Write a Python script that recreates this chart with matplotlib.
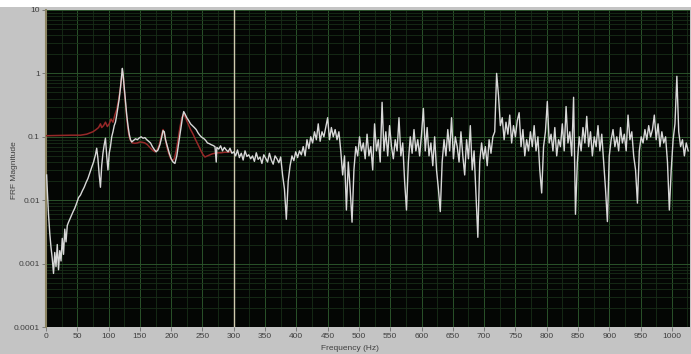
import matplotlib
matplotlib.use('Agg')
import matplotlib.pyplot as plt
from matplotlib.ticker import MultipleLocator, LogLocator, NullFormatter
import numpy as np

# measured FRF, low band (explicit frequency points)
white_f_low = [1, 2, 4, 6, 8, 10, 12, 14, 16, 18, 20, 22, 24, 26, 28, 30, 32, 34, 36, 38,
               40, 43, 46, 49, 52, 55, 58, 61, 64, 67, 70, 73, 76, 79, 81, 83, 85, 87, 89, 91,
               93, 95, 97, 99, 101, 103, 105, 107, 109, 111, 113, 115, 117, 119, 121, 122, 123, 125, 127, 129,
               131, 133, 135, 137, 140, 143, 146, 149, 152, 155, 158, 161, 164, 167, 170, 173, 176, 179, 182, 185,
               187, 189, 191, 194, 197, 200, 203, 206, 209, 212, 215, 218, 220, 222, 225, 228, 231, 234, 237, 240,
               243, 246, 249, 252, 255, 258, 261, 264, 267, 270, 272, 273, 276, 279, 282, 285, 288, 291, 294, 297]
white_low = [0.025, 0.015, 0.006, 0.003, 0.0018, 0.0012, 0.0007, 0.0015, 0.0009, 0.002,
             0.0008, 0.0016, 0.0011, 0.0025, 0.0014, 0.0035, 0.0022, 0.004, 0.0045, 0.005,
             0.0055, 0.0065, 0.0075, 0.009, 0.011, 0.012, 0.014, 0.016, 0.019, 0.022,
             0.027, 0.033, 0.04, 0.052, 0.066, 0.045, 0.025, 0.016, 0.035, 0.055,
             0.075, 0.095, 0.05, 0.03, 0.055, 0.07, 0.1, 0.12, 0.15, 0.17,
             0.22, 0.3, 0.4, 0.6, 0.95, 1.2, 1.0, 0.6, 0.35, 0.22,
             0.15, 0.11, 0.09, 0.083, 0.088, 0.093, 0.09, 0.096, 0.1, 0.095,
             0.097, 0.09, 0.085, 0.08, 0.07, 0.063, 0.058, 0.062, 0.075, 0.1,
             0.125, 0.12, 0.09, 0.07, 0.055, 0.045, 0.04, 0.038, 0.05, 0.08,
             0.13, 0.2, 0.25, 0.23, 0.2, 0.18, 0.16, 0.15, 0.14, 0.13,
             0.115, 0.105, 0.098, 0.094, 0.088, 0.08, 0.078, 0.075, 0.073, 0.07,
             0.04, 0.068, 0.064, 0.072, 0.06, 0.068, 0.062, 0.058, 0.066, 0.055]

# measured FRF, 300 Hz upward, one value every 3 Hz
white_high = [
    0.058, 0.05, 0.062, 0.047, 0.055, 0.043, 0.06, 0.049, 0.052, 0.045,
    0.05, 0.041, 0.056, 0.044, 0.048, 0.038, 0.052, 0.046, 0.04, 0.055,
    0.043, 0.037, 0.05, 0.045, 0.039, 0.048, 0.025, 0.015, 0.005, 0.02,
    0.035, 0.05, 0.042, 0.058, 0.047, 0.06, 0.052, 0.07, 0.05, 0.09,
    0.065, 0.1, 0.08, 0.12, 0.09, 0.16, 0.085, 0.12, 0.1, 0.14,
    0.2, 0.09, 0.14, 0.1, 0.13, 0.09, 0.12, 0.06, 0.025, 0.05,
    0.007, 0.04, 0.015, 0.0045, 0.03, 0.07, 0.05, 0.1, 0.06, 0.08,
    0.045, 0.11, 0.05, 0.07, 0.03, 0.16, 0.06, 0.09, 0.04, 0.35,
    0.06, 0.12, 0.05, 0.15, 0.07, 0.045, 0.09, 0.06, 0.2, 0.05,
    0.08, 0.02, 0.007, 0.04, 0.1, 0.055, 0.13, 0.06, 0.09, 0.05,
    0.11, 0.28, 0.06, 0.14, 0.05, 0.08, 0.035, 0.1, 0.03, 0.015,
    0.0066, 0.04, 0.09, 0.05, 0.13, 0.06, 0.2, 0.045, 0.1, 0.07,
    0.04, 0.12, 0.05, 0.025, 0.09, 0.045, 0.15, 0.03, 0.06, 0.012,
    0.0026, 0.04, 0.08, 0.045, 0.07, 0.035, 0.09, 0.055, 0.1, 0.12,
    1.0, 0.45, 0.15, 0.2, 0.09, 0.17, 0.11, 0.22, 0.08, 0.15,
    0.1, 0.18, 0.24, 0.07, 0.13, 0.05, 0.09, 0.06, 0.12, 0.07,
    0.15, 0.06, 0.1, 0.03, 0.013, 0.07, 0.12, 0.36, 0.08, 0.11,
    0.06, 0.14, 0.05, 0.09, 0.07, 0.16, 0.06, 0.3, 0.08, 0.12,
    0.05, 0.42, 0.006, 0.04, 0.1, 0.06, 0.14, 0.08, 0.21, 0.07,
    0.12, 0.05, 0.1, 0.07, 0.15, 0.06, 0.11, 0.04, 0.015, 0.0046,
    0.05, 0.09, 0.13, 0.07, 0.1, 0.06, 0.14, 0.08, 0.11, 0.06,
    0.22, 0.09, 0.12, 0.05, 0.03, 0.009, 0.06, 0.1, 0.08, 0.13,
    0.09, 0.15, 0.1, 0.13, 0.22, 0.09, 0.16, 0.07, 0.12, 0.08,
    0.1, 0.04, 0.007, 0.03, 0.09, 0.16, 0.9, 0.12, 0.07, 0.09,
    0.05, 0.08, 0.06]
white_f_high = 300 + 3 * np.arange(len(white_high))

# fitted / model FRF
red_f = [0, 20, 40, 55, 65, 75, 80, 84, 87, 89, 92, 95, 98, 101, 104, 107, 110, 113, 116, 119,
         121, 122, 123.5, 125, 127, 129, 131, 133, 135, 138, 142, 146, 150, 154, 158, 162, 166, 170, 174, 178,
         181, 184, 187, 190, 193, 196, 199, 202, 205, 208, 211, 214, 217, 220, 223, 227, 231, 235, 239, 243,
         247, 251, 254, 258, 262, 266, 270, 275, 280, 285, 290, 295]
red_v = [0.104, 0.105, 0.106, 0.106, 0.11, 0.12, 0.13, 0.14, 0.16, 0.14, 0.15, 0.17, 0.145, 0.16, 0.19,
         0.17, 0.22, 0.27, 0.38, 0.6, 0.9, 1.1, 0.9, 0.55, 0.33, 0.2, 0.13, 0.1, 0.088, 0.08,
         0.079, 0.08, 0.083, 0.082, 0.08, 0.075, 0.068, 0.062, 0.058, 0.063, 0.075, 0.1, 0.13, 0.1, 0.07,
         0.055, 0.046, 0.042, 0.045, 0.06, 0.09, 0.14, 0.2, 0.23, 0.2, 0.16, 0.13, 0.11, 0.09, 0.075,
         0.062, 0.052, 0.048, 0.05, 0.052, 0.054, 0.055, 0.056, 0.056, 0.057, 0.057, 0.058]

x_ticks = list(range(0, 1001, 50))
y_ticks = [1e-4, 1e-3, 1e-2, 1e-1, 1, 10]
y_tick_labels = ['0.0001', '0.001', '0.01', '0.1', '1', '10']

W, H = 691, 354
fig = plt.figure(figsize=(W / 100, H / 100), dpi=100, facecolor='#c4c4c4')
ax = fig.add_axes([46 / W, 1 - 327 / H, (690 - 46) / W, (327 - 10) / H])
ax.set_facecolor('#040604')

# white strip at the very top of the capture
fig.patches.append(plt.Rectangle((0, 1 - 7 / H), 1, 7 / H, transform=fig.transFigure,
                                 facecolor='white', edgecolor='none'))

white_f = list(white_f_low) + list(white_f_high)
white_v = list(white_low) + list(white_high)
ax.plot(red_f, red_v, color='#962828', linewidth=1.1, zorder=3)
ax.plot(white_f, white_v, color='#d8d8d8', linewidth=1.0, zorder=4)

# cursor line
ax.axvline(300, color='#d0caae', linewidth=1.0, zorder=2)

ax.set_yscale('log')
ax.set_xlim(0, 1029)
ax.set_ylim(1e-4, 10)
ax.set_xticks(x_ticks)
ax.set_yticks(y_ticks)
ax.set_yticklabels(y_tick_labels)
ax.xaxis.set_minor_locator(MultipleLocator(25))
ax.yaxis.set_minor_locator(LogLocator(base=10, subs=np.arange(2, 10)))
ax.yaxis.set_minor_formatter(NullFormatter())

ax.grid(True, which='major', color='#2a522a', linewidth=0.7)
ax.grid(True, which='minor', color='#182e18', linewidth=0.6)
ax.set_axisbelow(True)

ax.tick_params(which='major', length=3, width=0.6, color='#707070',
               labelsize=6, labelcolor='#404040', pad=1.5)
ax.tick_params(which='minor', length=0)
for lab in ax.get_xticklabels() + ax.get_yticklabels():
    lab.set_family('Liberation Sans')

for s in ['top', 'right', 'bottom']:
    ax.spines[s].set_visible(False)
ax.spines['left'].set_color('#8c8462')
ax.spines['left'].set_linewidth(1.5)

fig.text(350 / W, 1 - 348 / H, 'Frequency (Hz)', ha='center', va='center',
         fontsize=6, color='#404040', family='Liberation Sans')
fig.text(14 / W, 1 - 170 / H, 'FRF Magnitude', ha='center', va='center',
         rotation=90, fontsize=6, color='#404040', family='Liberation Sans')

fig.savefig('out.png', dpi=100, facecolor=fig.get_facecolor())
